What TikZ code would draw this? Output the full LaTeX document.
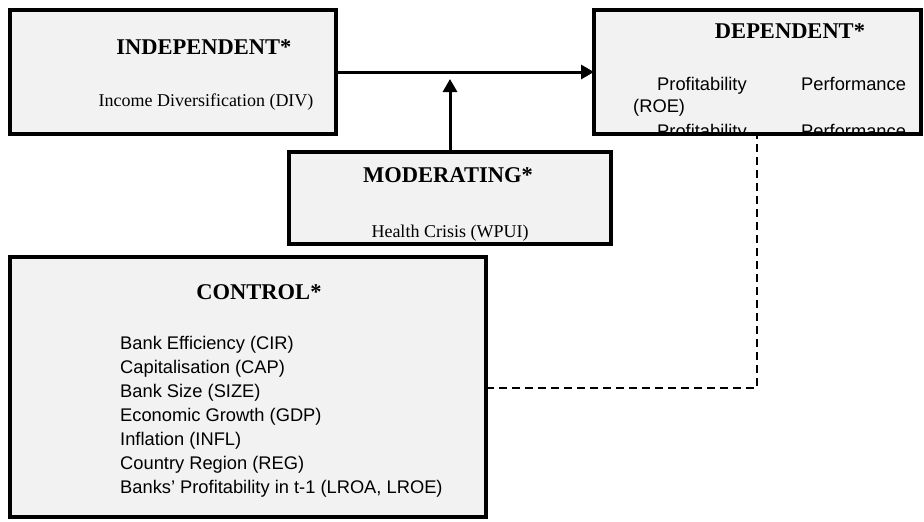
\documentclass[tikz,border=0pt]{standalone}
\usepackage{fontspec}
\setmainfont{Liberation Serif}
\newfontfamily\arialf{Liberation Sans}
\usetikzlibrary{arrows.meta}
\definecolor{boxgray}{HTML}{F2F2F2}
\begin{document}
\begin{tikzpicture}[x=1pt,y=-1pt,
  box/.style={draw=black, line width=4pt, fill=boxgray, inner sep=0pt, outer sep=0pt, anchor=north west},
  ttl/.style={font=\fontsize{22.5}{27}\selectfont\bfseries, anchor=base, inner sep=0pt},
  srf/.style={font=\fontsize{18}{22}\selectfont, anchor=base, inner sep=0pt},
  sns/.style={font=\arialf\fontsize{18.3}{22}\selectfont, anchor=base west, inner sep=0pt},
  arr/.style={line width=3pt, -{Triangle[length=13pt,width=14pt]}},
  dsh/.style={line width=2pt, dash pattern=on 8pt off 5pt}
]
\fill[white] (0,0) rectangle (924,522);
\useasboundingbox (0,0) rectangle (924,522);

% boxes
\node[box, minimum width=326pt, minimum height=124pt] (indep) at (10,10) {};
\node[box, minimum width=327pt, minimum height=124pt] (dep) at (594,10) {};
\node[box, minimum width=322pt, minimum height=92pt] (mod) at (289,152) {};
\node[box, minimum width=476pt, minimum height=260pt] (ctrl) at (10,257) {};

% independent
\node[ttl] (indT) at (204,54) {INDEPENDENT*};
\node[srf] (indD) at (206,106) {Income Diversification (DIV)};

% dependent (text clipped by the box)
\node[ttl] (depT) at (790,38) {DEPENDENT*};
\begin{scope}
\clip (596,12) rectangle (919,132);
\node[sns] (dep1) at (657,90) {Profitability};
\node[sns] (dep2) at (801,90) {Performance};
\node[sns] (dep3) at (633,112) {(ROE)};
\node[sns] (dep4) at (657,137) {Profitability};
\node[sns] (dep5) at (801,137) {Performance};
\end{scope}

% moderating
\node[ttl] (modT) at (448,182) {MODERATING*};
\node[srf] (modD) at (450,237) {Health Crisis (WPUI)};

% control
\node[ttl] (ctlT) at (259,299) {CONTROL*};
\node[sns] (c1) at (120,349) {Bank Efficiency (CIR)};
\node[sns] (c2) at (120,373) {Capitalisation (CAP)};
\node[sns] (c3) at (120,397) {Bank Size (SIZE)};
\node[sns] (c4) at (120,421) {Economic Growth (GDP)};
\node[sns] (c5) at (120,445) {Inflation (INFL)};
\node[sns] (c6) at (120,469) {Country Region (REG)};
\node[sns] (c7) at (120,493) {Banks’ Profitability in t-1 (LROA, LROE)};

% connectors
\draw[arr] (indep.east) -- (dep.west);
\coordinate (jn) at (450,79);
\draw[arr] (mod.north) -- (jn);
\coordinate (dc) at (757,388);
\draw[dsh] (ctrl.east |- dc) -- (dc) -- (dep.south -| dc);
\end{tikzpicture}
\end{document}
